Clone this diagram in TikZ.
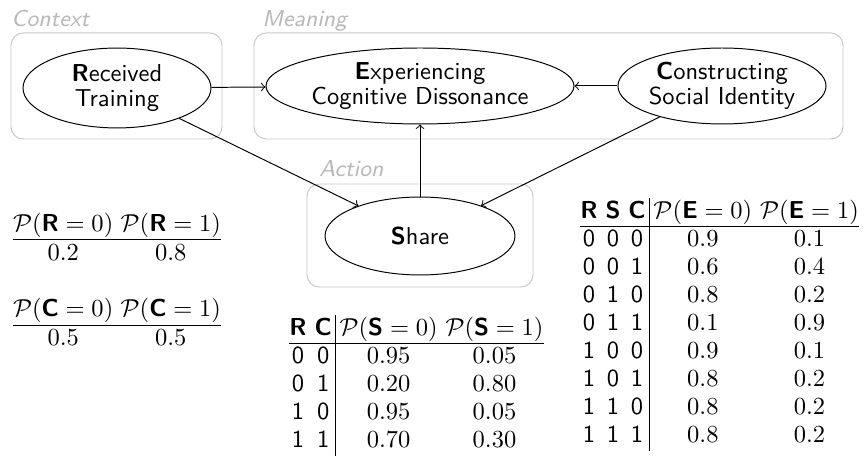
\documentclass[tikz,border=0pt]{standalone}
\usepackage{amsmath}
\usepackage{xcolor}
\usetikzlibrary{shapes.geometric}

\tikzset{
  var/.style={draw, ellipse, inner sep=0pt, font=\fontsize{10}{10.5}\selectfont\sffamily, align=center},
  group/.style={draw=black!22, rounded corners=5pt},
  grouplabel/.style={text=black!28, font=\fontsize{9.4}{11}\selectfont\sffamily\itshape, anchor=base west, inner sep=0pt},
  cpt/.style={inner sep=0pt, font=\fontsize{10}{11.4}\selectfont\sffamily},
}

\newcommand{\prob}[2]{\mathcal{P}(\textsf{\textbf{#1}}=#2)}
\setlength{\tabcolsep}{1.6pt}

\begin{document}
\begin{tikzpicture}[x=0.408pt, y=-0.408pt, >=to]
  \useasboundingbox (0,0) rectangle (865,462);

  % Groups
  \draw[group] (11,33) rectangle (222,139);
  \draw[group] (254,33) rectangle (843,139);
  \draw[group] (307,184) rectangle (533,287);
  \node[grouplabel] (context) at (11,27) {Context};
  \node[grouplabel] (meaning) at (262,27) {Meaning};
  \node[grouplabel] (action) at (319,177) {Action};

  % Variables
  \node[var, minimum width=76.7pt, minimum height=32.6pt] (R) at (117,88) {\textbf{R}eceived\\Training};
  \node[var, minimum width=125.7pt, minimum height=31pt] (E) at (420,86) {\textbf{E}xperiencing\\Cognitive Dissonance};
  \node[var, minimum width=84.9pt, minimum height=31pt] (C) at (722,86) {\textbf{C}onstructing\\Social Identity};
  \node[var, minimum width=77.5pt, minimum height=31.8pt] (S) at (420,236) {\textbf{S}hare};

  % Edges
  \draw[->] (R) -- (E);
  \draw[->] (C) -- (E);
  \draw[->] (R) -- (S);
  \draw[->] (C) -- (S);
  \draw[->] (S) -- (E);

  % Priors
  \node[cpt] (cptR) at (117,240) {$\begin{array}{@{}c@{\hspace{3pt}}c@{}}
    \prob{R}{0} & \prob{R}{1} \\ \hline
    0.2 & 0.8
  \end{array}$};
  \node[cpt] (cptC) at (117,325) {$\begin{array}{@{}c@{\hspace{3pt}}c@{}}
    \prob{C}{0} & \prob{C}{1} \\ \hline
    0.5 & 0.5
  \end{array}$};

  % Conditional tables
  \node[cpt, anchor=north west] (cptS) at (289,315) {\begin{tabular}{@{}cc|cc@{}}
    \textbf{R} & \textbf{C} & $\prob{S}{0}$ & $\prob{S}{1}$ \\ \hline
    0 & 0 & $0.95$ & $0.05$ \\
    0 & 1 & $0.20$ & $0.80$ \\
    1 & 0 & $0.95$ & $0.05$ \\
    1 & 1 & $0.70$ & $0.30$ \\
  \end{tabular}};
  \node[cpt, anchor=north west] (cptE) at (580,198) {\begin{tabular}{@{}ccc|cc@{}}
    \textbf{R} & \textbf{S} & \textbf{C} & $\prob{E}{0}$ & $\prob{E}{1}$ \\ \hline
    0 & 0 & 0 & $0.9$ & $0.1$ \\
    0 & 0 & 1 & $0.6$ & $0.4$ \\
    0 & 1 & 0 & $0.8$ & $0.2$ \\
    0 & 1 & 1 & $0.1$ & $0.9$ \\
    1 & 0 & 0 & $0.9$ & $0.1$ \\
    1 & 0 & 1 & $0.8$ & $0.2$ \\
    1 & 1 & 0 & $0.8$ & $0.2$ \\
    1 & 1 & 1 & $0.8$ & $0.2$ \\
  \end{tabular}};
\end{tikzpicture}
\end{document}
